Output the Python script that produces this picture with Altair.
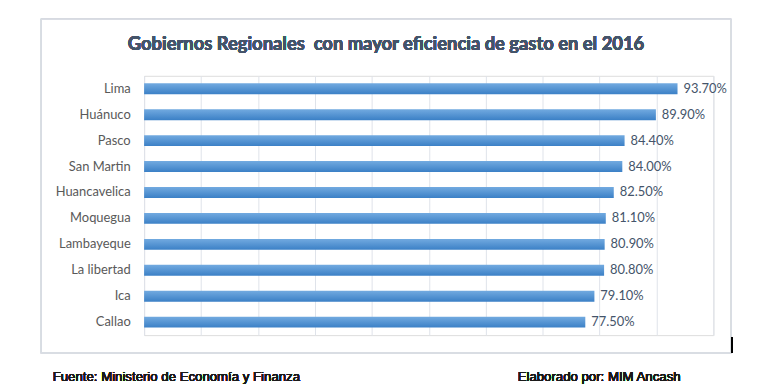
import altair as alt
import pandas as pd

regiones = ["Lima", "Huánuco", "Pasco", "San Martin", "Huancavelica", "Moquegua",
            "Lambayeque", "La libertad", "Ica", "Callao"]
valores = [93.7, 89.9, 84.4, 84.0, 82.5, 81.1, 80.9, 80.8, 79.1, 77.5]
etiquetas = ["93.70%", "89.90%", "84.40%", "84.00%", "82.50%", "81.10%", "80.90%",
             "80.80%", "79.10%", "77.50%"]

titulo = "Gobiernos Regionales\u00a0 con mayor eficiencia de gasto en el 2016"
fuente = "Fuente: Ministerio de Economía y Finanza"
elaborado = "Elaborado por: MIM Ancash"

df = pd.DataFrame({"region": regiones, "valor": valores, "etiqueta": etiquetas})

W, H = 573, 261

y_enc = alt.Y("region:N", sort=regiones, title=None,
              scale=alt.Scale(paddingInner=0.58, paddingOuter=0.29),
              axis=alt.Axis(domain=False, ticks=False, labelFont="Lato", labelFontSize=13,
                            labelColor="#595959", labelPadding=14))
x_enc = alt.X("valor:Q", title=None, scale=alt.Scale(domain=[0, 100], nice=False),
              axis=alt.Axis(values=list(range(0, 101, 10)), labels=False, ticks=False,
                            domain=False, grid=True, gridColor="#dfe3ea", gridWidth=1))

grad = alt.Gradient(gradient="linear", x1=0, x2=0, y1=0, y2=1,
                    stops=[alt.GradientStop(color="#72aae0", offset=0),
                           alt.GradientStop(color="#3b80c6", offset=1)])

bars = alt.Chart(df).mark_bar(color=grad).encode(x=x_enc, y=y_enc)

labels = alt.Chart(df).mark_text(align="left", baseline="middle", dx=6, font="Lato",
                                 fontSize=13, color="#44546a").encode(
    x="valor:Q", y=alt.Y("region:N", sort=regiones), text="etiqueta:N")

border = alt.Chart(df).mark_rect(fill=None, stroke="#d9dde3", strokeWidth=1).encode(
    x=alt.value(-104), x2=alt.value(591), y=alt.value(-57), y2=alt.value(279))

blackline = alt.Chart(df).mark_rule(color="black", strokeWidth=1.5).encode(
    x=alt.value(592), y=alt.value(263), y2=alt.value(279))

title_mark = alt.Chart(df).mark_text(align="center", baseline="middle", font="Lato",
                                     fontSize=18.5, fontWeight="bold", color="#44546a").encode(
    x=alt.value(243.5), y=alt.value(-32), text=alt.value(titulo))

foot1 = alt.Chart(df).mark_text(align="left", baseline="middle", font="Liberation Sans",
                                fontSize=13.3, fontWeight=400, color="#1a1a1a").encode(
    x=alt.value(-92), y=alt.value(303), text=alt.value(fuente))

foot2 = alt.Chart(df).mark_text(align="left", baseline="middle", font="Liberation Sans",
                                fontSize=13.3, fontWeight=400, color="#1a1a1a").encode(
    x=alt.value(376), y=alt.value(303), text=alt.value(elaborado))

chart = alt.layer(border, blackline, bars, labels, title_mark, foot1, foot2).properties(
    width=W, height=H,
    autosize=alt.AutoSizeParams(type="none"),
    padding={"left": 137, "top": 67, "right": 60, "bottom": 56},
).configure_view(stroke=None).configure(background="white")

chart.save("out.html", embed_options={"renderer": "svg", "actions": False})
